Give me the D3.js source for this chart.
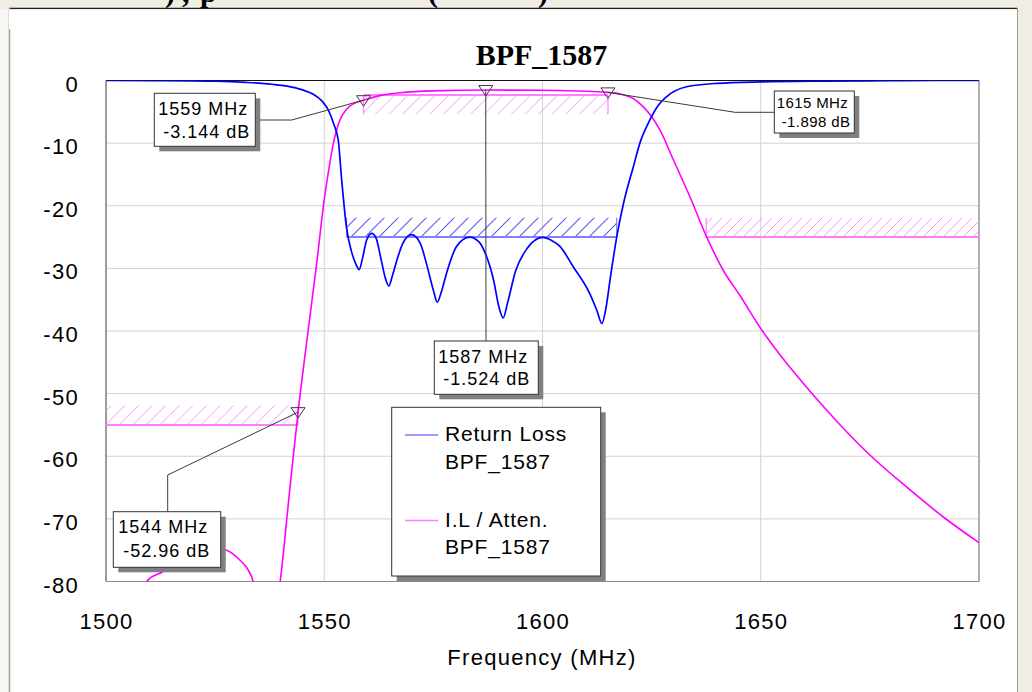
<!DOCTYPE html>
<html><head><meta charset="utf-8">
<script src="https://cdn.jsdelivr.net/npm/d3@7/dist/d3.min.js"></script>
<style>
body{margin:0;background:#EFEDE4;}
svg{display:block}
text{font-family:"Liberation Sans",Arial,sans-serif;fill:#000}
</style>
</head><body>
<svg id="c" width="1032" height="692"></svg>
<script>
// ---------- data ----------
const title = "BPF_1587";
const xLabel = "Frequency (MHz)";
const freqTicks = [1500, 1550, 1600, 1650, 1700];
const dbTicks = [0, -10, -20, -30, -40, -50, -60, -70, -80];
const seriesNames = ["Return Loss", "I.L / Atten."];
const seriesSub = ["BPF_1587", "BPF_1587"];

// Return loss [MHz, dB]
const returnLoss = [
 [1500,0],[1510,-0.02],[1520,-0.05],[1525,-0.1],[1532,-0.3],[1538,-0.6],[1541.5,-0.9],
 [1545,-1.5],[1547.5,-2.2],[1549.5,-3.3],[1551,-4.8],[1552.2,-7],[1553.2,-9.5],[1554,-15.9],
 [1555.1,-23.5],[1556.2,-27.2],[1557.3,-29.4],[1558,-30.2],[1558.7,-28.6],[1559.7,-25.5],
 [1560.9,-24.4],[1561.9,-25.2],[1563,-28.5],[1564.1,-31.8],[1564.8,-32.8],[1565.6,-31.2],
 [1566.9,-28.1],[1568,-26],[1570,-24.6],[1572,-26],[1573.4,-29.2],[1575,-33.5],[1575.9,-35.4],
 [1576.8,-33.8],[1578,-30.8],[1580.3,-26.5],[1583.3,-25.0],[1585.5,-25.8],[1586.9,-27.6],
 [1588.8,-31.9],[1590,-36.1],[1591,-37.9],[1592,-35.5],[1593.8,-30.5],[1596.5,-26.8],
 [1600,-25.05],[1602,-25.5],[1604,-26.5],[1607,-29.7],[1610.8,-34],[1612.5,-36.8],
 [1613.6,-38.8],[1614.5,-36.5],[1615.5,-31.7],[1617,-25],[1618.5,-19.8],[1620.8,-13.8],
 [1622.4,-9.8],[1624.6,-6.3],[1626.5,-4],[1628.4,-2.6],[1633,-1.0],[1640,-0.45],
 [1650,-0.22],[1665,-0.1],[1680,-0.04],[1690,0],[1700,0]
];

// Insertion loss / attenuation [MHz, dB]
const insertionLoss = [
 [1500,-95],[1505,-88],[1509.3,-80],[1513.1,-78.4],[1517,-76.5],[1521,-75.2],[1524.5,-74.7],
 [1527.6,-75.0],[1530.7,-76.6],[1532.6,-78.2],[1533.7,-80],[1535,-86],[1537,-90],
 [1539.9,-80],[1542,-66],[1544,-52.96],[1546.3,-40],[1548.3,-29],[1550,-19],[1551.2,-13.5],
 [1552.1,-10],[1553.6,-6.3],[1555.1,-4.6],[1557,-3.6],[1559,-3.144],[1563.5,-2.3],
 [1567.4,-1.95],[1575,-1.65],[1587,-1.524],[1600,-1.55],[1608,-1.68],[1615,-1.898],
 [1618,-2.2],[1620.8,-2.9],[1622.8,-4],[1624.6,-5.4],[1626.9,-7.9],[1630,-12.7],
 [1633.8,-18.6],[1637.5,-24.8],[1641.4,-30.3],[1645.2,-34.3],[1650.2,-39.8],[1654.4,-43.8],
 [1661.7,-49.95],[1668.2,-55],[1675,-59.8],[1683.4,-64.9],[1692.2,-69.9],[1700,-73.8]
];

// spec masks
const maskSeries = ["rl", "il", "il", "il"];
const maskStart  = [1555.1, 1559, 1637.5, 1500];
const maskEnd    = [1617, 1615, 1700, 1544];
const maskLevel  = [-25, -2.3, -25, -55];
const maskSide   = ["above", "below", "above", "above"];

// markers
const markerFreq  = [1559, 1587, 1615, 1544];
const markerValue = [-3.144, -1.524, -1.898, -52.96];

// ---------- layout ----------
const W = 1032, H = 692;
const L = 106, R = 979, T = 80.5, B = 581.5;
const svg = d3.select("#c");
const x = d3.scaleLinear().domain([1500, 1700]).range([L, R]);
const y = d3.scaleLinear().domain([-80, 0]).range([B, T]);
const fmt = d => String(d);

const blue = "#0000ff", mag = "#ff00ff";

// page
svg.append("rect").attr("width", W).attr("height", H).attr("fill", "#EFEDE4");
svg.append("rect").attr("x", 0).attr("y", 9).attr("width", 9).attr("height", H).attr("fill", "#F7F6F2");
svg.append("rect").attr("x", 9).attr("y", 8.5).attr("width", 1008).attr("height", 700)
  .attr("fill", "#fff");
svg.append("line").attr("x1", 9).attr("x2", 1017).attr("y1", 8.5).attr("y2", 8.5)
  .attr("stroke", "#222").attr("stroke-width", 1.5);
svg.append("line").attr("x1", 9.5).attr("x2", 9.5).attr("y1", 8).attr("y2", H)
  .attr("stroke", "#a09c94").attr("stroke-width", 1.5);
svg.append("line").attr("x1", 1017.5).attr("x2", 1017.5).attr("y1", 8).attr("y2", H)
  .attr("stroke", "#a09c94").attr("stroke-width", 1);

// cropped heading remnants above the panel (as in the reference)
const head = [[165, ")"], [182, ","], [200, "p"], [428, "("], [538, ")"]];
svg.selectAll("text.head").data(head).enter().append("text")
  .attr("x", d => d[0]).attr("y", 2)
  .style("font-family", "'Liberation Serif','Times New Roman',serif")
  .style("font-weight", "bold").style("font-size", "30px")
  .text(d => d[1]);
svg.append("rect").attr("x", 9).attr("y", 9.3).attr("width", 1008).attr("height", 20).attr("fill", "#fff");

// title
svg.append("text").attr("x", 541.5).attr("y", 65).attr("text-anchor", "middle")
  .style("font-family", "'Liberation Serif','Times New Roman',serif")
  .style("font-weight", "bold").style("font-size", "30px").text(title);

// defs
const defs = svg.append("defs");
defs.append("clipPath").attr("id", "plotClip").append("rect")
  .attr("x", L).attr("y", T).attr("width", R - L).attr("height", B - T);
function hatch(id, color, sp, sw) {
  const p = defs.append("pattern").attr("id", id).attr("patternUnits", "userSpaceOnUse")
    .attr("width", sp).attr("height", sp);
  p.append("path").attr("d", `M0,${sp} L${sp},0 M${-sp/2},${sp/2} L${sp/2},${-sp/2} M${sp/2},${sp*1.5} L${sp*1.5},${sp/2}`)
    .attr("stroke", color).attr("stroke-width", sw).attr("fill", "none");
}
hatch("hB", "#5a5aff", 14, 1.1);
hatch("hM", "#ff88ff", 13.6, 0.9);
hatch("hM2", "#ff88ff", 10, 0.9);

// grid
const g = svg.append("g");
g.selectAll("line.gx").data(freqTicks).enter().append("line")
  .attr("x1", d => x(d)).attr("x2", d => x(d)).attr("y1", T).attr("y2", B)
  .attr("stroke", "#d2d2d2").attr("stroke-width", 1);
g.selectAll("line.gy").data(dbTicks).enter().append("line")
  .attr("x1", L).attr("x2", R).attr("y1", d => y(d)).attr("y2", d => y(d))
  .attr("stroke", "#d2d2d2").attr("stroke-width", 1);

// frame
svg.append("line").attr("x1", L).attr("x2", R).attr("y1", T).attr("y2", T).attr("stroke", "#111").attr("stroke-width", 1);
svg.append("line").attr("x1", L).attr("x2", L).attr("y1", T).attr("y2", B).attr("stroke", "#6a6a6a").attr("stroke-width", 1.2);
svg.append("line").attr("x1", L).attr("x2", R).attr("y1", B).attr("y2", B).attr("stroke", "#8a8a8a").attr("stroke-width", 1.2);
svg.append("line").attr("x1", R).attr("x2", R).attr("y1", T).attr("y2", B).attr("stroke", "#8a8a8a").attr("stroke-width", 1.2);

// axes
const ax = svg.append("g").attr("transform", `translate(0,${B})`)
  .call(d3.axisBottom(x).tickValues(freqTicks).tickSize(0).tickFormat(fmt));
ax.select(".domain").remove();
ax.selectAll("text").attr("y", 47.5).attr("dy", 0)
  .style("font-size", "22px").style("letter-spacing", "1.3px")
  .style("font-family", "'Liberation Sans',Arial,sans-serif").attr("fill", "#000");
const ay = svg.append("g").attr("transform", `translate(${L},0)`)
  .call(d3.axisLeft(y).tickValues(dbTicks).tickSize(0).tickPadding(27).tickFormat(fmt));
ay.select(".domain").remove();
ay.selectAll("text").attr("dy", "0.48em")
  .style("font-size", "22px").style("letter-spacing", "1.3px")
  .style("font-family", "'Liberation Sans',Arial,sans-serif").attr("fill", "#000");

svg.append("text").attr("x", 542).attr("y", 665).attr("text-anchor", "middle")
  .style("font-size", "22px").style("letter-spacing", "1.3px").text(xLabel);

// masks
const band = 3.1; // dB
const mk = svg.append("g").attr("clip-path", "url(#plotClip)");
maskLevel.forEach((lv, i) => {
  const isB = maskSeries[i] === "rl";
  const x0 = x(maskStart[i]), x1 = x(maskEnd[i]);
  const yl = y(lv);
  const yo = maskSide[i] === "above" ? y(lv + band) : y(lv - band);
  const fillId = isB ? "hB" : (maskStart[i] > 1630 ? "hM2" : "hM");
  const lineCol = isB ? "#8080ff" : "#ff80ff";
  mk.append("rect").attr("x", x0).attr("y", Math.min(yl, yo)).attr("width", x1 - x0)
    .attr("height", Math.abs(yo - yl)).attr("fill", `url(#${fillId})`);
  mk.append("line").attr("x1", x0).attr("x2", x1).attr("y1", yl).attr("y2", yl)
    .attr("stroke", lineCol).attr("stroke-width", 2);
  [x0, x1].forEach(xx => {
    if (xx > L + 1 && xx < R - 1)
      mk.append("line").attr("x1", xx).attr("x2", xx).attr("y1", yl).attr("y2", yo)
        .attr("stroke", lineCol).attr("stroke-width", 1.2);
  });
});

// curves
const line = d3.line().x(d => x(d[0])).y(d => y(d[1])).curve(d3.curveMonotoneX);
const cv = svg.append("g").attr("clip-path", "url(#plotClip)");
cv.append("path").datum(insertionLoss).attr("d", line).attr("fill", "none")
  .attr("stroke", mag).attr("stroke-width", 1.6);
cv.append("path").datum(returnLoss).attr("d", line).attr("fill", "none")
  .attr("stroke", blue).attr("stroke-width", 1.7);

// marker label boxes (layout)
const boxX = [154.3, 434.3, 774.3, 113.3];
const boxY = [93.3, 341, 91, 511.7];
const boxW = [101, 104, 80, 107.4];
const boxH = [53, 53.3, 42, 55.6];
const boxFont = [18, 18, 15, 18];
const boxLS = [1, 1, 0.4, 1];
const boxL1 = [[4, 22], [4, 22], [2.4, 17.3], [5, 21.3]];
const boxL2 = [[9, 45], [9, 44], [7.4, 36.3], [10, 45]];
const leaderPts = [
  [[255, 120], [291.7, 120]],
  [[486, 341]],
  [[774.3, 112.3], [735, 112.3]],
  [[167.7, 511.7], [167.7, 475]]
];

const lab = svg.append("g");
markerFreq.forEach((f, i) => {
  const px = x(f), py = y(markerValue[i]);
  const pts = leaderPts[i].concat([[px, py]]);
  lab.append("path").attr("d", d3.line()(pts)).attr("fill", "none")
    .attr("stroke", "#3a3a3a").attr("stroke-width", 1);
  lab.append("path").attr("d", `M${px-7},${py-4.5} L${px+7},${py-4.5} L${px},${py+6} Z`)
    .attr("fill", "none").attr("stroke", "#3a3a3a").attr("stroke-width", 1);
  lab.append("rect").attr("x", boxX[i] + 5).attr("y", boxY[i] + 5).attr("width", boxW[i]).attr("height", boxH[i])
    .attr("fill", "#808080");
  lab.append("rect").attr("x", boxX[i]).attr("y", boxY[i]).attr("width", boxW[i]).attr("height", boxH[i])
    .attr("fill", "#fff").attr("stroke", "#333").attr("stroke-width", 1);
  lab.append("text").attr("x", boxX[i] + boxL1[i][0]).attr("y", boxY[i] + boxL1[i][1])
    .style("font-size", boxFont[i] + "px").style("letter-spacing", boxLS[i] + "px")
    .text(`${f} MHz`);
  lab.append("text").attr("x", boxX[i] + boxL2[i][0]).attr("y", boxY[i] + boxL2[i][1])
    .style("font-size", boxFont[i] + "px").style("letter-spacing", boxLS[i] + "px")
    .text(`${markerValue[i]} dB`);
});

// legend
const lg = svg.append("g");
const lgX = 391.7, lgY = 407.3, lgW = 209, lgH = 168.7;
lg.append("rect").attr("x", lgX + 5).attr("y", lgY + 5).attr("width", lgW).attr("height", lgH).attr("fill", "#808080");
lg.append("rect").attr("x", lgX).attr("y", lgY).attr("width", lgW).attr("height", lgH)
  .attr("fill", "#fff").attr("stroke", "#333").attr("stroke-width", 1);
const legCol = ["#7b7bff", "#ff7bff"];
seriesNames.forEach((n, i) => {
  const yy = lgY + 33.7 + i * 85.5;
  lg.append("line").attr("x1", 405).attr("x2", 438.3).attr("y1", yy - 6).attr("y2", yy - 6)
    .attr("stroke", legCol[i]).attr("stroke-width", 1.3);
  lg.append("text").attr("x", 445).attr("y", yy).style("font-size", "21px")
    .style("letter-spacing", "0.8px").text(n);
  lg.append("text").attr("x", 445).attr("y", yy + 27.5).style("font-size", "21px")
    .style("letter-spacing", "0.8px").text(seriesSub[i]);
});
</script>
</body></html>
